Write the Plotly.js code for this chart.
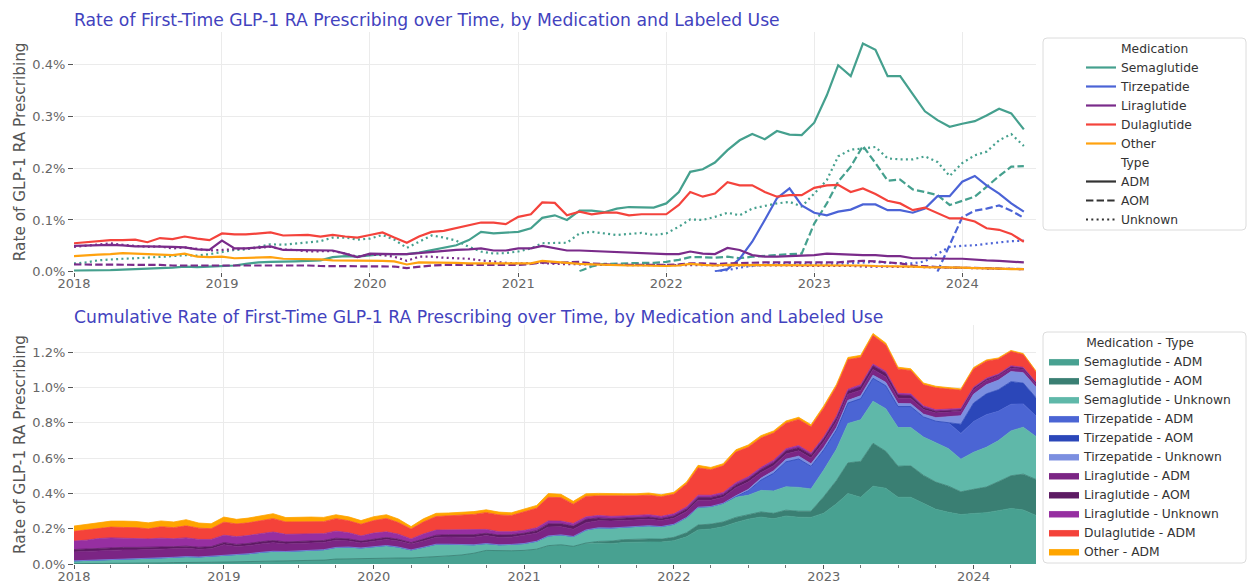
<!DOCTYPE html>
<html>
<head>
<meta charset="utf-8">
<script src="https://cdn.plot.ly/plotly-3.0.1.min.js"></script>
<style>html,body{margin:0;padding:0;background:#fff;}#chart{width:1249px;height:586px;}</style>
</head>
<body>
<div id="chart"></div>
<script>
// ---------- DATA (rate of first-time prescribing, in %) ----------
const startMonth = '2018-01';
const nMonths = 78; // Jan 2018 .. Jun 2024

const medications = ['Semaglutide', 'Tirzepatide', 'Liraglutide', 'Dulaglutide', 'Other'];
const types = ['ADM', 'AOM', 'Unknown'];
const yearTicks = ['2018', '2019', '2020', '2021', '2022', '2023', '2024'];

const semaglutideADM = [0.002,0.002,0.003,0.003,0.004,0.005, 0.005,0.006,0.008,0.010,0.009,0.010,
  0.011,0.012,0.015,0.018,0.019,0.019, 0.020,0.021,0.022,0.028,0.030,0.029,
  0.032,0.034,0.034,0.034,0.037,0.042, 0.046,0.051,0.061,0.077,0.074,0.075,
  0.077,0.084,0.104,0.109,0.100,0.118, 0.118,0.115,0.122,0.125,0.125,0.124,
  0.132,0.154,0.193,0.198,0.211,0.235, 0.254,0.266,0.256,0.272,0.265,0.264,
  0.288,0.341,0.399,0.378,0.441,0.429, 0.378,0.378,0.343,0.310,0.293,0.280,
  0.286,0.291,0.302,0.315,0.306,0.275];
const semaglutideAOM = Array(41).fill(null).concat([0.001,0.010,0.015,0.016,0.016,0.017,0.017,
  0.019,0.023,0.028,0.028,0.027,0.029, 0.026,0.029,0.031,0.033,0.034,0.035,
  0.093,0.132,0.174,0.203,0.243,0.210, 0.176,0.178,0.159,0.154,0.148,0.129,
  0.137,0.145,0.164,0.185,0.203,0.204]);
const semaglutideUnknown = [0.016,0.018,0.022,0.024,0.025,0.026, 0.027,0.029,0.030,0.032,0.031,0.034,
  0.038,0.042,0.043,0.048,0.053,0.052, 0.054,0.057,0.059,0.066,0.066,0.062,
  0.064,0.071,0.062,0.046,0.058,0.070, 0.066,0.060,0.048,0.039,0.035,0.036,
  0.039,0.045,0.055,0.056,0.056,0.074, 0.077,0.074,0.071,0.073,0.075,0.071,
  0.074,0.087,0.101,0.100,0.106,0.114, 0.109,0.122,0.127,0.132,0.135,0.126,
  0.151,0.177,0.223,0.236,0.238,0.241, 0.219,0.217,0.217,0.223,0.212,0.185,
  0.210,0.225,0.232,0.254,0.266,0.243];
const tirzepatideADM = Array(52).fill(null).concat([0.000,0.005,0.025,0.058,0.100,0.142,0.161,0.128,
  0.114,0.109,0.116,0.120,0.130,0.130, 0.119,0.119,0.114,0.122,0.146,0.146,
  0.174,0.185,0.167,0.151,0.132,0.116]);
const tirzepatideAOM = Array(70).fill(null).concat([0.000,0.052,0.105,0.118,0.122,0.128,0.118,0.104]);
const tirzepatideUnknown = Array(52).fill(null).concat([0.000,0.003,0.008,0.011,0.014,0.015,0.016,0.015,
  0.014,0.014,0.015,0.016,0.018,0.019, 0.017,0.016,0.016,0.020,0.035,0.048,
  0.050,0.051,0.054,0.057,0.059,0.060]);
const liraglutideADM = [0.050,0.051,0.052,0.052,0.051,0.049, 0.049,0.049,0.048,0.047,0.043,0.042,
  0.060,0.045,0.045,0.047,0.049,0.042, 0.042,0.041,0.041,0.041,0.035,0.028,
  0.035,0.034,0.034,0.034,0.036,0.039, 0.041,0.042,0.043,0.045,0.041,0.041,
  0.045,0.045,0.050,0.046,0.041,0.041, 0.040,0.039,0.037,0.037,0.036,0.034,
  0.034,0.034,0.039,0.035,0.034,0.046, 0.042,0.032,0.029,0.029,0.030,0.032,
  0.032,0.035,0.034,0.032,0.032,0.032, 0.030,0.030,0.026,0.026,0.025,0.025,
  0.025,0.023,0.022,0.021,0.019,0.018];
const liraglutideAOM = [0.014,0.014,0.014,0.014,0.014,0.014, 0.013,0.013,0.012,0.012,0.012,0.012,
  0.012,0.012,0.013,0.013,0.012,0.012, 0.012,0.012,0.011,0.011,0.011,0.011,
  0.011,0.011,0.010,0.007,0.010,0.012, 0.013,0.013,0.014,0.013,0.014,0.014,
  0.013,0.015,0.018,0.017,0.018,0.019, 0.016,0.014,0.013,0.013,0.013,0.012,
  0.013,0.014,0.016,0.016,0.015,0.016, 0.017,0.017,0.018,0.018,0.018,0.018,
  0.017,0.018,0.018,0.020,0.021,0.020, 0.018,0.016,0.012,0.010,0.009,0.008,
  0.008,0.007,0.007,0.006,0.006,0.005];
const liraglutideUnknown = [0.048,0.050,0.053,0.055,0.052,0.050, 0.048,0.049,0.045,0.047,0.044,0.041,
  0.042,0.044,0.045,0.046,0.048,0.043, 0.042,0.039,0.039,0.040,0.035,0.029,
  0.033,0.032,0.029,0.021,0.029,0.029, 0.027,0.026,0.025,0.022,0.019,0.017,
  0.016,0.016,0.017,0.015,0.015,0.014, 0.014,0.013,0.013,0.013,0.013,0.012,
  0.012,0.012,0.013,0.012,0.012,0.013, 0.013,0.012,0.013,0.012,0.012,0.011,
  0.011,0.012,0.011,0.011,0.010,0.010, 0.010,0.010,0.009,0.009,0.008,0.008,
  0.007,0.007,0.006,0.006,0.005,0.005];
const dulaglutideADM = [0.055,0.057,0.058,0.061,0.061,0.062, 0.057,0.065,0.063,0.068,0.064,0.061,
  0.074,0.072,0.072,0.074,0.076,0.070, 0.070,0.071,0.068,0.071,0.068,0.066,
  0.071,0.076,0.066,0.056,0.068,0.077, 0.079,0.084,0.090,0.095,0.095,0.092,
  0.106,0.111,0.134,0.133,0.109,0.116, 0.111,0.114,0.114,0.109,0.111,0.111,
  0.111,0.129,0.154,0.145,0.151,0.173, 0.167,0.167,0.154,0.145,0.148,0.148,
  0.162,0.167,0.168,0.154,0.161,0.150, 0.137,0.132,0.119,0.124,0.113,0.103,
  0.103,0.097,0.084,0.081,0.073,0.058];
const otherADM = [0.030,0.032,0.033,0.034,0.036,0.035, 0.034,0.033,0.032,0.035,0.029,0.028,
  0.029,0.026,0.027,0.027,0.028,0.025, 0.025,0.025,0.024,0.022,0.022,0.021,
  0.022,0.021,0.020,0.014,0.018,0.018, 0.017,0.017,0.016,0.016,0.016,0.015,
  0.016,0.016,0.021,0.019,0.016,0.015, 0.014,0.013,0.012,0.012,0.012,0.011,
  0.011,0.012,0.015,0.013,0.012,0.013, 0.013,0.013,0.012,0.012,0.012,0.012,
  0.013,0.012,0.012,0.012,0.012,0.011, 0.011,0.010,0.010,0.009,0.009,0.008,
  0.008,0.007,0.007,0.006,0.005,0.005];

// ---------- series definitions ----------
const medColors = {Semaglutide:'#45a08e', Tirzepatide:'#4b63d6', Liraglutide:'#7a2b8a', Dulaglutide:'#f4433c', Other:'#ffa20f'};
const dashes = {ADM:'solid', AOM:'7.4px,3.2px', Unknown:'2px,3.3px'};
const series = [
  {med:'Semaglutide', type:'ADM', y:semaglutideADM, area:'#48a191'},
  {med:'Semaglutide', type:'AOM', y:semaglutideAOM, area:'#3a7f73'},
  {med:'Semaglutide', type:'Unknown', y:semaglutideUnknown, area:'#5fb8a9'},
  {med:'Tirzepatide', type:'ADM', y:tirzepatideADM, area:'#4b65d4'},
  {med:'Tirzepatide', type:'AOM', y:tirzepatideAOM, area:'#2b47b9'},
  {med:'Tirzepatide', type:'Unknown', y:tirzepatideUnknown, area:'#7c8fe0'},
  {med:'Liraglutide', type:'ADM', y:liraglutideADM, area:'#7b2584'},
  {med:'Liraglutide', type:'AOM', y:liraglutideAOM, area:'#5d1b63'},
  {med:'Liraglutide', type:'Unknown', y:liraglutideUnknown, area:'#962fa1'},
  {med:'Dulaglutide', type:'ADM', y:dulaglutideADM, area:'#f4423a'},
  {med:'Other', type:'ADM', y:otherADM, area:'#ffa500'}
];

const months = [];
{
  let yr = +startMonth.slice(0,4), mo = +startMonth.slice(5,7);
  for (let i = 0; i < nMonths; i++) {
    months.push(yr + '-' + String(mo).padStart(2,'0') + '-01');
    mo++; if (mo > 12) { mo = 1; yr++; }
  }
}

// ---------- geometry helpers (pixel -> paper / container) ----------
const W = 1249, H = 586, L = 74, R = 1036, T = 32, B = 564;
const px = x => (x - L) / (R - L);
const py = y => (B - y) / (B - T);
const cx = x => x / W;
const cy = y => 1 - y / H;

const FONT = 'DejaVu Sans, Verdana, sans-serif';
const titleColor = '#4242be';
const LEGEND_FONT = 12.3;

const traces = [];
// top: line chart
series.forEach(s => {
  traces.push({
    x: months, y: s.y, type: 'scatter', mode: 'lines',
    name: s.med + ' - ' + s.type, showlegend: false,
    line: {color: medColors[s.med], width: 2.2, dash: dashes[s.type]},
    xaxis: 'x', yaxis: 'y', hoverinfo: 'x+y+name'
  });
});
// top legend (seaborn style: hue + style sections)
const blank = {x:[null], y:[null], type:'scatter', mode:'lines', xaxis:'x', yaxis:'y', legend:'legend', hoverinfo:'skip'};
traces.push(Object.assign({}, blank, {name:'Medication', line:{color:'rgba(0,0,0,0)', width:2}}));
medications.forEach(m => traces.push(Object.assign({}, blank, {name:m, line:{color:medColors[m], width:2.2}})));
traces.push(Object.assign({}, blank, {name:'Type', line:{color:'rgba(0,0,0,0)', width:2}}));
types.forEach(t => traces.push(Object.assign({}, blank, {name:t, line:{color:'#333333', width:2.2, dash:dashes[t]}})));

// bottom: stacked area
series.forEach(s => {
  traces.push({
    x: months, y: s.y.map(v => v === null ? 0 : v), type: 'scatter', mode: 'lines',
    name: s.med + ' - ' + s.type, stackgroup: 'one',
    line: {color: s.area, width: 0.8}, fillcolor: s.area,
    xaxis: 'x2', yaxis: 'y2', legend: 'legend2'
  });
});

function roundBox(x0, y0, x1, y1, r) {
  const rx = r / (R - L), ry = r / (B - T);
  const a = px(x0), b = px(x1), top = py(y0), bot = py(y1);
  return `M${a+rx},${top} L${b-rx},${top} Q${b},${top} ${b},${top-ry} L${b},${bot+ry} Q${b},${bot} ${b-rx},${bot} L${a+rx},${bot} Q${a},${bot} ${a},${bot+ry} L${a},${top-ry} Q${a},${top} ${a+rx},${top} Z`;
}

const axisCommon = {
  showgrid: true, gridcolor: '#ebebeb', gridwidth: 1, zeroline: false, showline: false,
  ticks: 'outside', ticklen: 5, tickwidth: 1, tickcolor: '#555',
  tickfont: {family: FONT, size: 13, color: '#666'}
};
const yTitle = {text: 'Rate of GLP-1 RA Prescribing', font: {family: FONT, size: 15.3, color: '#555'}, standoff: 3};

const layout = {
  width: W, height: H,
  margin: {l: L, r: W - R, t: T, b: H - B, pad: 0, autoexpand: false},
  paper_bgcolor: '#ffffff', plot_bgcolor: '#ffffff',
  font: {family: FONT, size: 13, color: '#333'},
  title: {text: 'Rate of First-Time GLP-1 RA Prescribing over Time, by Medication and Labeled Use',
    font: {family: FONT, size: 17.2, color: titleColor},
    x: L / W, xanchor: 'left', xref: 'container', y: 1 - 19.5 / H, yanchor: 'middle', yref: 'container'},
  xaxis: Object.assign({}, axisCommon, {domain: [0, 1], anchor: 'y', type: 'date',
    range: ['2018-01-01', '2024-07-01'], tick0: '2018-01-01', dtick: 'M12', tickformat: '%Y',
    ticklen: 4, ticklabelstandoff: -4}),
  yaxis: Object.assign({}, axisCommon, {domain: [py(271.7), 1], anchor: 'x',
    range: [0, 0.4633], dtick: 0.1, tickformat: '.1f', ticksuffix: '%', title: yTitle}),
  xaxis2: Object.assign({}, axisCommon, {domain: [0, 1], anchor: 'y2', type: 'date',
    range: ['2018-01-01', '2024-06-01'], tick0: '2018-01-01', dtick: 'M12', tickformat: '%Y',
    ticklen: 4, ticklabelstandoff: -4,
    minor: {ticks: 'outside', ticklen: 3, tickcolor: '#777', dtick: 'M3', tick0: '2018-01-01', showgrid: false}}),
  yaxis2: Object.assign({}, axisCommon, {domain: [0, py(325)], anchor: 'x2',
    range: [0, 1.354], dtick: 0.2, tickformat: '.1f', ticksuffix: '%', title: yTitle}),
  legend: {xref: 'container', yref: 'container', x: cx(1081), xanchor: 'left', y: cy(34), yanchor: 'top',
    bgcolor: 'rgba(0,0,0,0)', borderwidth: 0,
    font: {family: FONT, size: LEGEND_FONT, color: '#333'}, traceorder: 'normal', tracegroupgap: 0},
  legend2: {xref: 'container', yref: 'container', x: cx(1044), xanchor: 'left', y: cy(331), yanchor: 'top',
    bgcolor: 'rgba(0,0,0,0)', borderwidth: 0,
    font: {family: FONT, size: LEGEND_FONT, color: '#333'}, traceorder: 'normal', tracegroupgap: 0,
    title: {text: 'Medication - Type', side: 'top center', font: {family: FONT, size: LEGEND_FONT, color: '#333'}}},
  shapes: [
    {type: 'path', xref: 'paper', yref: 'paper', path: roundBox(1043, 38, 1246, 230, 4),
      line: {color: '#dcdcdc', width: 1}, fillcolor: '#ffffff', layer: 'below'},
    {type: 'path', xref: 'paper', yref: 'paper', path: roundBox(1043, 332, 1246, 563, 4),
      line: {color: '#dcdcdc', width: 1}, fillcolor: '#ffffff', layer: 'below'}
  ],
  annotations: [
    {text: 'Cumulative Rate of First-Time GLP-1 RA Prescribing over Time, by Medication and Labeled Use',
      xref: 'paper', yref: 'paper', x: 0, xanchor: 'left', xshift: -2, y: py(316.5), yanchor: 'middle', showarrow: false,
      font: {family: FONT, size: 17.2, color: titleColor}}
  ],
  showlegend: true
};

Plotly.newPlot('chart', traces, layout, {staticPlot: true, displayModeBar: false});
</script>
</body>
</html>
